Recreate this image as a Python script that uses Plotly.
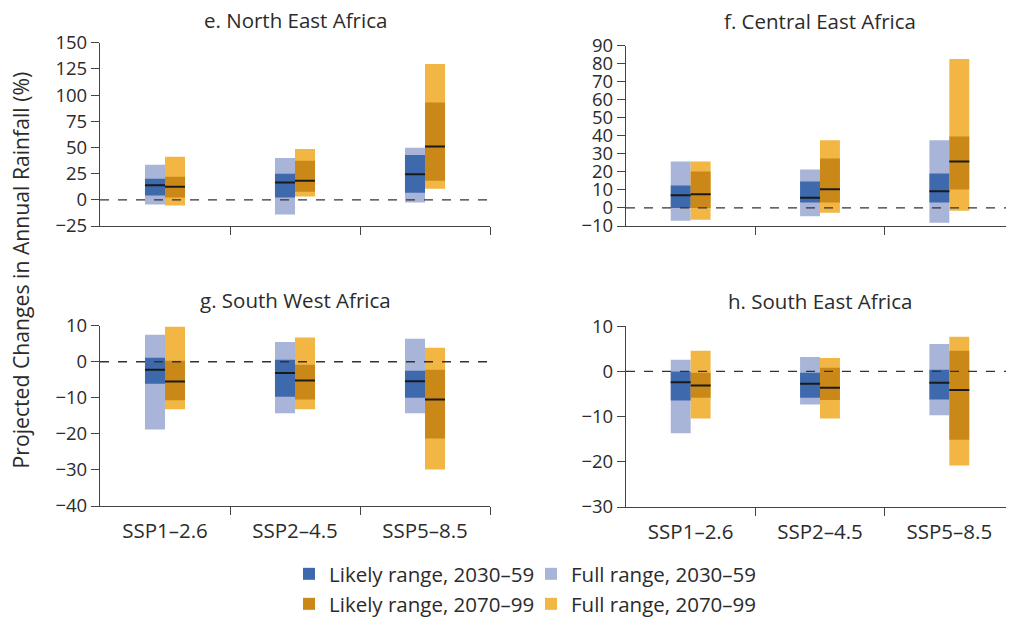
import plotly.graph_objects as go

scenarios = ["SSP1–2.6", "SSP2–4.5", "SSP5–8.5"]
panel_titles = ["e. North East Africa", "f. Central East Africa",
                "g. South West Africa", "h. South East Africa"]

# Each panel: values per scenario for (full_low, full_high, likely_low, likely_high, median)
# North East Africa
ne_full_lo_1 = [-4.4, -14.0, -2.5]
ne_full_hi_1 = [33.4, 40.0, 49.6]
ne_like_lo_1 = [4.1, 2.2, 6.7]
ne_like_hi_1 = [20.0, 24.8, 42.9]
ne_med_1 = [14.0, 16.5, 24.5]
ne_full_lo_2 = [-5.4, 3.2, 10.5]
ne_full_hi_2 = [41.0, 48.6, 129.6]
ne_like_lo_2 = [2.2, 7.6, 18.1]
ne_like_hi_2 = [22.0, 37.2, 92.8]
ne_med_2 = [12.4, 18.1, 50.8]

# Central East Africa
ce_full_lo_1 = [-7.1, -4.6, -8.2]
ce_full_hi_1 = [25.8, 21.3, 37.5]
ce_like_lo_1 = [0.0, 3.0, 3.0]
ce_like_hi_1 = [12.4, 14.7, 19.1]
ce_med_1 = [7.1, 5.6, 9.3]
ce_full_lo_2 = [-6.5, -2.6, -1.5]
ce_full_hi_2 = [25.8, 37.5, 82.6]
ce_like_lo_2 = [0.0, 3.0, 10.2]
ce_like_hi_2 = [20.2, 27.5, 39.7]
ce_med_2 = [7.6, 10.4, 25.8]

# South West Africa
sw_full_lo_1 = [-18.8, -14.3, -14.3]
sw_full_hi_1 = [7.5, 5.5, 6.4]
sw_like_lo_1 = [-6.1, -9.7, -10.0]
sw_like_hi_1 = [1.1, 0.55, -2.5]
sw_med_1 = [-2.2, -3.1, -5.4]
sw_full_lo_2 = [-13.2, -13.2, -29.9]
sw_full_hi_2 = [9.7, 6.7, 3.9]
sw_like_lo_2 = [-10.7, -10.5, -21.3]
sw_like_hi_2 = [0.3, -0.8, -2.2]
sw_med_2 = [-5.5, -5.2, -10.5]

# South East Africa
se_full_lo_1 = [-13.7, -7.3, -9.7]
se_full_hi_1 = [2.6, 3.2, 6.1]
se_like_lo_1 = [-6.4, -5.8, -6.2]
se_like_hi_1 = [0.0, -0.3, 0.4]
se_med_1 = [-2.4, -2.7, -2.5]
se_full_lo_2 = [-10.4, -10.4, -20.8]
se_full_hi_2 = [4.6, 3.0, 7.7]
se_like_lo_2 = [-5.8, -6.3, -15.1]
se_like_hi_2 = [-0.3, 0.8, 4.6]
se_med_2 = [-3.1, -3.6, -4.1]

y_ranges = [[-25, 150], [-10, 90], [-40, 10], [-30, 10]]
y_ticks = [list(range(-25, 151, 25)), list(range(-10, 91, 10)),
           list(range(-40, 11, 10)), list(range(-30, 11, 10))]

panels = [
    (ne_full_lo_1, ne_full_hi_1, ne_like_lo_1, ne_like_hi_1, ne_med_1,
     ne_full_lo_2, ne_full_hi_2, ne_like_lo_2, ne_like_hi_2, ne_med_2),
    (ce_full_lo_1, ce_full_hi_1, ce_like_lo_1, ce_like_hi_1, ce_med_1,
     ce_full_lo_2, ce_full_hi_2, ce_like_lo_2, ce_like_hi_2, ce_med_2),
    (sw_full_lo_1, sw_full_hi_1, sw_like_lo_1, sw_like_hi_1, sw_med_1,
     sw_full_lo_2, sw_full_hi_2, sw_like_lo_2, sw_like_hi_2, sw_med_2),
    (se_full_lo_1, se_full_hi_1, se_like_lo_1, se_like_hi_1, se_med_1,
     se_full_lo_2, se_full_hi_2, se_like_lo_2, se_like_hi_2, se_med_2),
]

C_LIKE_1 = "#3e6aad"
C_FULL_1 = "#a8b5d8"
C_LIKE_2 = "#c98818"
C_FULL_2 = "#f2b644"
AXC = "#444444"
TXT = "#2b2b2b"
FONT = "Open Sans"

# The page body has an 8px margin, so the figure is laid out in page pixels minus OFF.
OFF = 8
W, H = 1014 - OFF, 617 - OFF


def fx(px):
    return (px - OFF) / W


def fy(py):
    return 1 - (py - OFF) / H


# pixel boxes in page coordinates (left, right, top, bottom)
boxes = [(100, 490, 42.7, 226), (626, 1014, 45.7, 226),
         (100, 490, 325.7, 506), (626, 1014, 326.3, 507)]
title_y = [20, 20.5, 300, 300.5]

BW = 0.154
xs = [0, 1, 2]

fig = go.Figure()
layout = {}
shapes = []
annotations = []

for p, (vals, box) in enumerate(zip(panels, boxes)):
    (f1lo, f1hi, l1lo, l1hi, m1, f2lo, f2hi, l2lo, l2hi, m2) = vals
    ax = "" if p == 0 else str(p + 1)
    xa, ya = "x" + ax, "y" + ax
    first = p == 0

    def bar(lo, hi, color, name, off, legend, rank):
        return go.Bar(x=xs, base=lo, y=[h - l for h, l in zip(hi, lo)],
                      width=BW, offset=off, marker=dict(color=color, line=dict(width=0)),
                      name=name, showlegend=first, legend=legend, legendrank=rank,
                      xaxis=xa, yaxis=ya, hoverinfo="skip")

    fig.add_trace(bar(f1lo, f1hi, C_FULL_1, "Full range, 2030–59", -BW, "legend", 2))
    fig.add_trace(bar(f2lo, f2hi, C_FULL_2, "Full range, 2070–99", 0, "legend2", 4))
    fig.add_trace(bar(l1lo, l1hi, C_LIKE_1, "Likely range, 2030–59", -BW, "legend", 1))
    fig.add_trace(bar(l2lo, l2hi, C_LIKE_2, "Likely range, 2070–99", 0, "legend2", 3))
    for med, sgn in ((m1, -1), (m2, 1)):
        fig.add_trace(go.Scatter(x=[x + sgn * BW / 2 for x in xs], y=med, mode="markers",
                                 marker=dict(symbol="line-ew", size=14.3,
                                             line=dict(width=2, color="#1a1a1a")),
                                 showlegend=False, xaxis=xa, yaxis=ya, hoverinfo="skip"))

    l, r, t, b = box
    bottom_row = p >= 2
    layout["xaxis" + ax] = dict(
        domain=[fx(l), min(fx(r), 1)], range=[-0.5, 2.5], anchor=ya, automargin=False,
        tickvals=xs, ticktext=scenarios, ticks="", showticklabels=bottom_row,
        showline=True, linecolor=AXC, linewidth=1.3, showgrid=False, zeroline=False,
        tickfont=dict(family=FONT, size=20.5, color=TXT), ticklabelstandoff=6,
        minor=dict(tickvals=[0.5, 1.5, 2.5], ticks="outside", ticklen=8,
                   tickcolor=AXC, tickwidth=1.3, showgrid=False),
    )
    layout["yaxis" + ax] = dict(
        domain=[fy(b), fy(t)], range=y_ranges[p], anchor=xa, automargin=False,
        tickvals=y_ticks[p], ticks="outside", ticklen=8, tickcolor=AXC, tickwidth=1.3,
        showline=True, linecolor=AXC, linewidth=1.3, showgrid=False, zeroline=False,
        tickfont=dict(family=FONT, size=18.5, color=TXT),
    )
    shapes.append(dict(type="line", xref=xa + " domain", yref=ya, x0=0, x1=1, y0=0, y1=0,
                       line=dict(color="#333333", width=1.3, dash="dash"), layer="above"))
    annotations.append(dict(text=panel_titles[p], xref="paper", yref="paper",
                            x=fx((l + r) / 2), y=fy(title_y[p]), xanchor="center",
                            yanchor="middle", showarrow=False,
                            font=dict(family=FONT, size=20.5, color=TXT)))

annotations.append(dict(text="Projected Changes in Annual Rainfall (%)", xref="paper",
                        yref="paper", x=fx(20.5), y=fy(270), xanchor="center",
                        yanchor="middle", textangle=-90, showarrow=False,
                        font=dict(family=FONT, size=21.2, color=TXT)))

legend_common = dict(orientation="h", xanchor="left", yanchor="middle",
                     font=dict(family=FONT, size=20.5, color=TXT),
                     bgcolor="rgba(0,0,0,0)", entrywidth=197, entrywidthmode="pixels",
                     traceorder="normal", itemsizing="constant")
layout["legend"] = dict(legend_common, x=fx(289), y=fy(574))
layout["legend2"] = dict(legend_common, x=fx(289), y=fy(604))

fig.update_layout(
    width=W, height=H, margin=dict(l=0, r=0, t=0, b=0, autoexpand=False),
    plot_bgcolor="white", paper_bgcolor="white", barmode="overlay",
    shapes=shapes, annotations=annotations,
    **layout,
)
fig.write_html("out.html")
